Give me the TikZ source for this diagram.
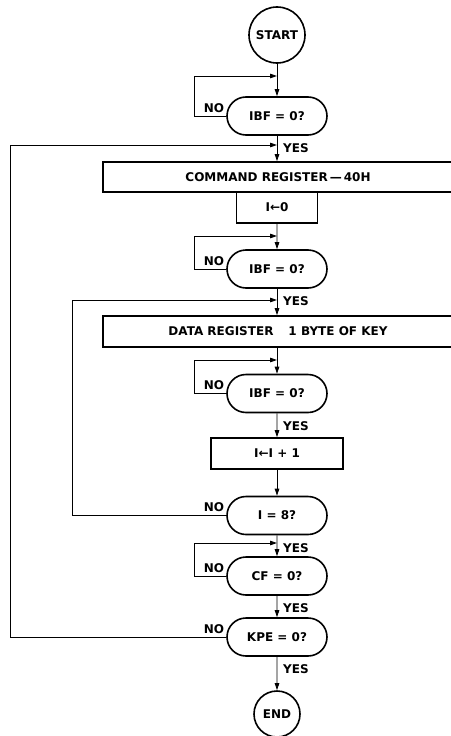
\documentclass[tikz,border=0pt]{standalone}
\usepackage{fontspec}
\setmainfont{DejaVu Sans}
\usetikzlibrary{arrows.meta,shapes.misc}
\begin{document}
\begin{tikzpicture}[x=1pt,y=-1pt,
  every node/.style={font=\fontsize{12}{14}\selectfont\bfseries},
  term/.style={draw,circle,line width=1.6pt,inner sep=0pt},
  dec/.style={draw,rounded rectangle,line width=1.6pt,inner sep=0pt,minimum width=100pt,minimum height=38pt},
  box/.style={draw,rectangle,line width=1.6pt,inner sep=0pt,minimum height=31pt},
  conn/.style={line width=0.8pt},
  arr/.style={conn,-{Triangle[length=7pt,width=4.5pt]}},
  lbl/.style={inner sep=0pt}]
\useasboundingbox (0,0) rectangle (450,736);
\fill[white] (0,0) rectangle (450,736);

% nodes
\node[term,minimum size=56pt] (start) at (277,35) {START};
\node[dec] (ibf1) at (277,116) {IBF = 0?};
\node[box,minimum width=350pt,minimum height=30pt] (cmd) at (278,177) {COMMAND REGISTER\,—\,40H};
\node[box,minimum width=81pt] (i0) at (277,207.5) {I←0};
\node[dec] (ibf2) at (277,269) {IBF = 0?};
\node[box,minimum width=350pt] (data) at (278,331.5) {DATA REGISTER\hspace{15pt}1 BYTE OF KEY};
\node[dec] (ibf3) at (277,393.5) {IBF = 0?};
\node[box,minimum width=132pt] (inc) at (277,453.5) {I←I + 1};
\node[dec] (i8) at (277,515.5) {I = 8?};
\node[dec] (cf) at (277,576) {CF = 0?};
\node[dec] (kpe) at (277,637) {KPE = 0?};
\node[term,minimum size=46pt] (end) at (277,714) {END};

% junction points on the main line
\coordinate (j0) at (277,145);
\coordinate (j1) at (277,76);
\coordinate (j2) at (277,236);
\coordinate (j3) at (277,300);
\coordinate (j4) at (277,360);
\coordinate (j5) at (277,543);

% main flow
\draw[arr] (start) -- (ibf1);
\draw[arr] (ibf1.south) -- (ibf1.south |- cmd.north);
\draw[arr] (i0) -- (ibf2);
\draw[arr] (ibf2.south) -- (ibf2.south |- data.north);
\draw[arr] (data.south -| ibf3.north) -- (ibf3.north);
\draw[arr] (ibf3) -- (inc);
\draw[arr] (inc) -- (i8);
\draw[arr] (i8) -- (cf);
\draw[arr] (cf) -- (kpe);
\draw[arr] (kpe) -- (end);

% wait loops
\draw[arr] (ibf1.west) -- ++(-32,0) |- (j1);
\draw[arr] (ibf2.west) -- ++(-32,0) |- (j2);
\draw[arr] (ibf3.west) -- ++(-32,0) |- (j4);
\draw[arr] (cf.west) -- ++(-32,0) |- (j5);
% long loops
\draw[arr] (i8.west) -- ++(-154,0) |- (j3);
\draw[arr] (kpe.west) -- ++(-216,0) |- (j0);

% NO labels
\foreach \n in {ibf1,ibf2,ibf3,i8,cf,kpe}
  \node[lbl,anchor=base east] (no\n) at ([xshift=-2pt,yshift=4pt]\n.west) {NO};
% YES labels
\foreach \n in {ibf1,ibf2,ibf3,i8,cf,kpe}
  \node[lbl,anchor=base west] (yes\n) at ([xshift=6pt,yshift=-17pt]\n.south) {YES};
\end{tikzpicture}
\end{document}
